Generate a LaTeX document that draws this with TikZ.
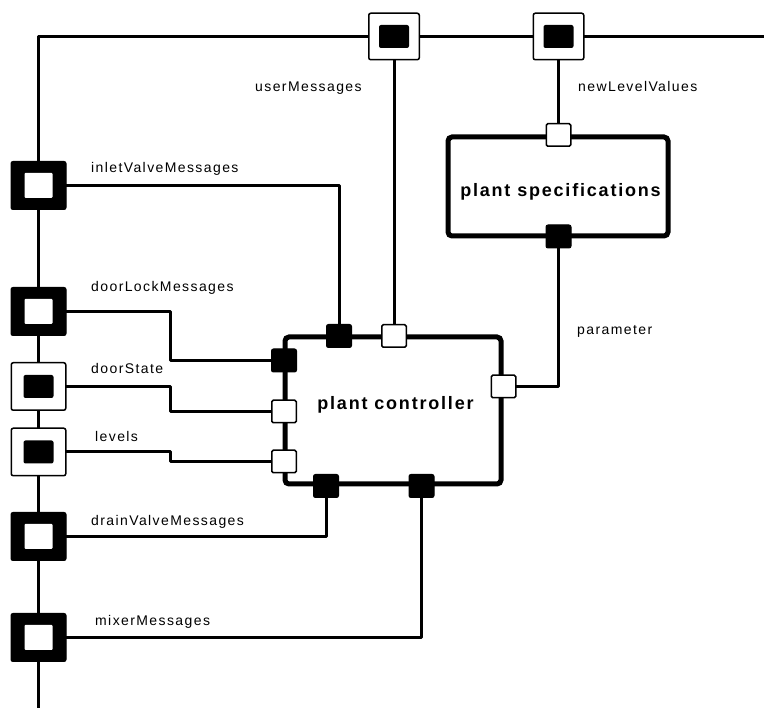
\documentclass[tikz,border=0pt]{standalone}
\usepackage{fontspec}
\setmainfont{Liberation Sans}
\newfontfamily\lblfont[LetterSpace=10]{Liberation Sans}
\newfontfamily\ttlfont[LetterSpace=10]{Liberation Sans Bold}
\usetikzlibrary{calc}
\pgfdeclarelayer{bg}
\pgfsetlayers{bg,main}
\begin{document}
\begin{tikzpicture}[x=1pt,y=-1pt,
  bus/.style={line width=3.5, line join=round},
  conn/.style={line width=3, line join=round},
  lbl/.style={anchor=base west, inner sep=0, font=\lblfont\fontsize{14}{16}\selectfont},
  ttl/.style={anchor=base, inner sep=0, font=\ttlfont\fontsize{18}{20}\selectfont},
  block/.style={rectangle, draw=black, fill=white, line width=5, rounded corners=4, inner sep=0},
  innerblack/.style={path picture={\fill[black, rounded corners=2]
      ($(path picture bounding box.center)+(-15,-11.5)$) rectangle
      ($(path picture bounding box.center)+(15,11.5)$);}},
  innerwhite/.style={path picture={\fill[white, rounded corners=1]
      ($(path picture bounding box.center)+(-14,-12.5)$) rectangle
      ($(path picture bounding box.center)+(14,12.5)$);}},
  topport/.style={rectangle, draw=black, fill=white, line width=1.5, rounded corners=2,
      inner sep=0, minimum width=50.5, minimum height=46.5, innerblack},
  inport/.style={rectangle, draw=black, fill=white, line width=1.5, rounded corners=2,
      inner sep=0, minimum width=54.5, minimum height=47.5, innerblack},
  outport/.style={rectangle, draw=black, fill=black, line width=1, rounded corners=2,
      inner sep=0, minimum width=55, minimum height=48, innerwhite},
  wport/.style={rectangle, draw=black, fill=white, line width=1.5, rounded corners=1.5,
      inner sep=0, minimum width=24.5, minimum height=22.5},
  bport/.style={rectangle, draw=black, fill=black, line width=1, rounded corners=2,
      inner sep=0, minimum width=25, minimum height=23}
]
\useasboundingbox (0,0) rectangle (764,708);

% blocks
\node[block, minimum width=216, minimum height=147] (ctrl) at (393,410.5) {};
\node[ttl] (ctrltext) at (395.5,410) {plant controller};
\node[block, minimum width=220, minimum height=99] (spec) at (558,186.5) {};
\node[ttl] (spectext) at (560.5,197) {plant specifications};

% bus ports
\node[topport] (pU) at (394,36.5) {};
\node[topport] (pN) at (558.5,36.5) {};
\node[outport] (lInlet) at (38.5,185.5) {};
\node[outport] (lDoorLock) at (38.5,311.5) {};
\node[inport] (lDoorState) at (38.5,386.5) {};
\node[inport] (lLevels) at (38.5,452) {};
\node[outport] (lDrain) at (38.5,536.5) {};
\node[outport] (lMixer) at (38.5,637.5) {};

% controller ports
\node[bport] (cInlet) at (339,336) {};
\node[wport] (cUser) at (394,336) {};
\node[bport] (cDoorLock) at (284,360.5) {};
\node[wport] (cDoorState) at (284,411.5) {};
\node[wport] (cLevels) at (284,461.5) {};
\node[bport] (cDrain) at (326,486) {};
\node[bport] (cMixer) at (421.5,486) {};
\node[wport] (cParam) at (503.5,386.5) {};

% spec ports
\node[wport] (sIn) at (558.5,135) {};
\node[bport] (sOut) at (558.5,236.5) {};

% coordinates
\coordinate (tl) at (38.5,36.5);
\coordinate (tr) at (764,36.5);
\coordinate (bl) at (38.5,708);
\coordinate (jog) at (170,0);

\begin{pgfonlayer}{bg}
  \draw[bus] (pU.center) -- (tl) -- (lInlet.center);
  \draw[bus] (pU.center) -- (pN.center) -- (tr);
  \draw[bus] (lInlet.center) -- (lDoorLock.center) -- (lDoorState.center)
     -- (lLevels.center) -- (lDrain.center) -- (lMixer.center) -- (bl);
  \draw[conn] (pU.center) -- (cUser.center);
  \draw[conn] (pN.center) -- (sIn.center);
  \draw[conn] (sOut.center) |- (cParam.center);
  \draw[conn] (lInlet.center) -| (cInlet.center);
  \draw[conn] (lDoorLock.center) -- (lDoorLock.center -| jog) |- (cDoorLock.center);
  \draw[conn] (lDoorState.center) -- (lDoorState.center -| jog) |- (cDoorState.center);
  \draw[conn] (lLevels.center) -- (lLevels.center -| jog) |- (cLevels.center);
  \draw[conn] (lDrain.center) -| (cDrain.center);
  \draw[conn] (lMixer.center) -| (cMixer.center);
\end{pgfonlayer}

% labels
\node[lbl] (tUser) at (255,92) {userMessages};
\node[lbl] (tNew) at (578,92) {newLevelValues};
\node[lbl] (tInlet) at (91,173) {inletValveMessages};
\node[lbl] (tDoorLock) at (91,292) {doorLockMessages};
\node[lbl] (tDoorState) at (91,374) {doorState};
\node[lbl] (tLevels) at (95,442) {levels};
\node[lbl] (tDrain) at (91,526) {drainValveMessages};
\node[lbl] (tMixer) at (95,626) {mixerMessages};
\node[lbl] (tParam) at (577,335) {parameter};
\end{tikzpicture}
\end{document}
